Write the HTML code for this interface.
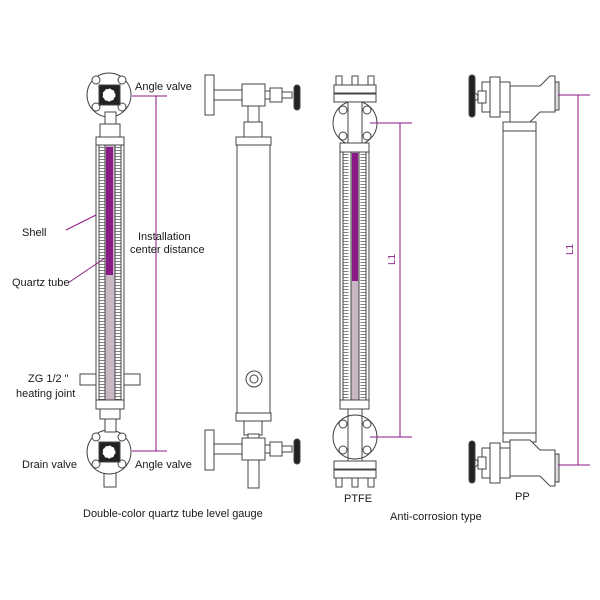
<!DOCTYPE html>
<html><head><style>body{margin:0;background:#fff}svg{display:block}text{font-family:"Liberation Sans",sans-serif;fill:#1a1a1a}</style></head><body>
<svg width="600" height="600" viewBox="0 0 600 600" xmlns="http://www.w3.org/2000/svg">
<g fill="#fff" stroke="#444" stroke-width="1">
<!-- Gauge 1 -->
<rect x="104" y="470" width="12" height="17"/>
<circle cx="109" cy="95" r="22"/>
<circle cx="109" cy="452" r="22"/>
<rect x="105" y="112" width="11" height="12"/>
<rect x="105" y="418" width="11" height="14"/>
<rect x="100" y="124" width="20" height="13"/>
<rect x="100" y="408" width="20" height="11"/>
<rect x="80" y="374" width="16" height="11"/>
<rect x="124" y="374" width="16" height="11"/>
<rect x="96" y="137" width="28" height="272"/>
<rect x="96" y="137" width="28" height="8"/>
<rect x="96" y="400" width="28" height="9"/>
<line x1="99" y1="145" x2="99" y2="400"/><line x1="121" y1="145" x2="121" y2="400"/>
<line x1="102" y1="147" x2="102" y2="400" stroke-width="5" stroke-dasharray="0.7 2.3" stroke="#555"/>
<line x1="118" y1="147" x2="118" y2="400" stroke-width="5" stroke-dasharray="0.7 2.3" stroke="#555"/>
<rect x="105" y="145" width="10" height="255" fill="#c8b8c4"/>
<rect x="106" y="147" width="7" height="128" fill="#8a1a86" stroke="none"/>
<g fill="#fff"><circle cx="96" cy="80" r="4"/><circle cx="122" cy="80" r="4"/><circle cx="96" cy="107" r="4"/><circle cx="122" cy="107" r="4"/>
<circle cx="96" cy="437" r="4"/><circle cx="122" cy="437" r="4"/><circle cx="96" cy="464" r="4"/><circle cx="122" cy="464" r="4"/></g>
<rect x="99" y="85" width="21" height="20" fill="#222"/>
<rect x="99" y="442" width="21" height="20" fill="#222"/>
<circle cx="109" cy="95" r="6" fill="#fff" stroke="#fff" stroke-dasharray="2 2"/>
<circle cx="109" cy="452" r="6" fill="#fff" stroke="#fff" stroke-dasharray="2 2"/>
<!-- Gauge 2 -->
<rect x="248" y="106" width="11" height="18"/>
<rect x="244" y="122" width="18" height="15"/>
<rect x="237" y="137" width="33" height="283"/>
<rect x="236" y="137" width="35" height="8"/>
<rect x="236" y="413" width="35" height="8"/>
<circle cx="254" cy="379" r="8"/><circle cx="254" cy="379" r="4"/>
<rect x="244" y="421" width="18" height="14"/>
<rect x="248" y="434" width="11" height="10"/>
<rect x="248" y="458" width="11" height="30"/>
<rect x="214" y="90" width="29" height="10"/>
<rect x="205" y="75" width="9" height="40"/>
<rect x="242" y="84" width="23" height="22"/>
<rect x="265" y="91" width="5" height="8"/><rect x="270" y="88" width="12" height="14"/><rect x="282" y="92" width="10" height="6"/>
<rect x="294" y="85" width="6" height="25" rx="3" fill="#222"/>
<rect x="214" y="444" width="29" height="10"/>
<rect x="205" y="430" width="9" height="40"/>
<rect x="242" y="438" width="23" height="22"/>
<rect x="265" y="445" width="5" height="8"/><rect x="270" y="442" width="12" height="14"/><rect x="282" y="446" width="10" height="6"/>
<rect x="294" y="439" width="6" height="25" rx="3" fill="#222"/>
<!-- Gauge 3 PTFE -->
<circle cx="355" cy="123" r="22"/>
<circle cx="355" cy="437" r="22"/>
<circle cx="343" cy="110" r="4"/><circle cx="367" cy="110" r="4"/><circle cx="343" cy="136" r="4"/><circle cx="367" cy="136" r="4"/>
<circle cx="343" cy="424" r="4"/><circle cx="367" cy="424" r="4"/><circle cx="343" cy="450" r="4"/><circle cx="367" cy="450" r="4"/>
<line x1="348" y1="100" x2="348" y2="145"/><line x1="362" y1="100" x2="362" y2="145"/>
<line x1="348" y1="408" x2="348" y2="462"/><line x1="362" y1="408" x2="362" y2="462"/>
<rect x="334" y="85" width="42" height="8"/><rect x="334" y="94" width="42" height="8"/>
<rect x="336" y="76" width="6" height="9"/><rect x="352" y="76" width="6" height="9"/><rect x="368" y="76" width="6" height="9"/>
<rect x="334" y="461" width="42" height="8"/><rect x="334" y="470" width="42" height="8"/>
<rect x="336" y="478" width="6" height="9"/><rect x="352" y="478" width="6" height="9"/><rect x="368" y="478" width="6" height="9"/>
<rect x="340" y="143" width="29" height="266"/>
<rect x="340" y="143" width="29" height="9"/>
<rect x="340" y="400" width="29" height="9"/>
<line x1="343" y1="152" x2="343" y2="400"/><line x1="366" y1="152" x2="366" y2="400"/>
<line x1="346" y1="154" x2="346" y2="400" stroke-width="5" stroke-dasharray="0.7 2.3" stroke="#555"/>
<line x1="363" y1="154" x2="363" y2="400" stroke-width="5" stroke-dasharray="0.7 2.3" stroke="#555"/>
<rect x="351" y="152" width="8" height="248" fill="#c8b8c4"/>
<rect x="352" y="153" width="6" height="128" fill="#8a1a86" stroke="none"/>
<!-- Gauge 4 PP -->
<rect x="503" y="122" width="33" height="320"/>
<rect x="503" y="122" width="33" height="9"/>
<rect x="503" y="433" width="33" height="9"/>
<rect x="511" y="106" width="18" height="16"/>
<rect x="511" y="442" width="18" height="16"/>
<polygon points="510,86 540,86 550,76 555,76 555,112 540,112 530,122 510,122"/>
<polygon points="510,440 530,440 540,450 555,450 555,486 550,486 540,476 510,476"/>
<rect x="555" y="82" width="4" height="28" fill="#ddd"/>
<rect x="555" y="454" width="4" height="28" fill="#ddd"/>
<rect x="482" y="82" width="28" height="30"/>
<rect x="490" y="77" width="10" height="40"/>
<rect x="478" y="91" width="8" height="12"/>
<rect x="470" y="93" width="8" height="8" rx="4"/>
<rect x="469" y="75" width="6" height="42" rx="3" fill="#222"/>
<rect x="482" y="448" width="28" height="30"/>
<rect x="490" y="443" width="10" height="40"/>
<rect x="478" y="457" width="8" height="12"/>
<rect x="470" y="459" width="8" height="8" rx="4"/>
<rect x="469" y="441" width="6" height="42" rx="3" fill="#222"/>
</g>
<!-- dimensions -->
<g stroke="#8a1a86" stroke-width="1" fill="#8a1a86">
<line x1="132" y1="96" x2="167" y2="96"/><line x1="132" y1="451" x2="167" y2="451"/><line x1="156" y1="96" x2="156" y2="451"/>
<line x1="370" y1="123" x2="412" y2="123"/><line x1="370" y1="437" x2="412" y2="437"/><line x1="400" y1="123" x2="400" y2="437"/>
<line x1="558" y1="95" x2="590" y2="95"/><line x1="558" y1="465" x2="590" y2="465"/><line x1="578" y1="95" x2="578" y2="465"/>
<line x1="66" y1="230" x2="96" y2="215"/><line x1="68" y1="283" x2="105" y2="258"/>
</g>
<g font-size="11">
<text x="135" y="90">Angle valve</text>
<text x="135" y="468">Angle valve</text>
<text x="22" y="468">Drain valve</text>
<text x="22" y="236">Shell</text>
<text x="12" y="286">Quartz tube</text>
<text x="28" y="382">ZG 1/2 "</text>
<text x="16" y="397">heating joint</text>
<text x="138" y="240">Installation</text>
<text x="130" y="253">center distance</text>
<text x="83" y="517">Double-color quartz tube level gauge</text>
<text x="344" y="502">PTFE</text>
<text x="515" y="500">PP</text>
<text x="390" y="520">Anti-corrosion type</text>
</g>
<text x="0" y="0" font-size="10" transform="translate(395,265) rotate(-90)" style="fill:#8a1a86">L1</text>
<text x="0" y="0" font-size="10" transform="translate(573,255) rotate(-90)" style="fill:#8a1a86">L1</text>
</svg>
</body></html>
